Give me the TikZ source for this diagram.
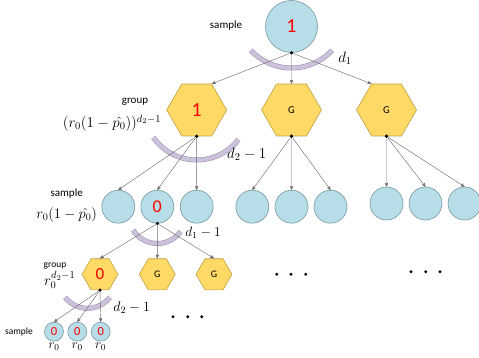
\RequirePackage{fix-cm}
\documentclass[tikz,border=0pt]{standalone}
\usepackage{fontspec}
\setsansfont{Carlito}
\usetikzlibrary{arrows,shapes.geometric,positioning}
\definecolor{smpfill}{RGB}{183,222,232}
\definecolor{smpline}{RGB}{120,150,160}
\definecolor{grpfill}{RGB}{255,217,102}
\definecolor{grpline}{RGB}{190,160,70}
\definecolor{bandfill}{RGB}{204,193,218}
\definecolor{bandline}{RGB}{150,140,175}
\definecolor{linkgray}{RGB}{110,110,110}
\newcommand\fsz[1]{\fontsize{#1}{#1}\selectfont}
\tikzset{>=stealth',
  smp/.style={circle,draw=smpline,fill=smpfill,line width=0.6pt,inner sep=0pt,
    text=red,font=\sffamily},
  grp/.style={regular polygon,regular polygon sides=6,draw=grpline,fill=grpfill,
    line width=0.6pt,inner sep=0pt,font=\sffamily\fsz{10.5}},
  junct/.style={circle,fill=black,inner sep=0pt,minimum size=3.6pt},
  link/.style={->,draw=linkgray,line width=0.45pt},
  band/.style={draw=bandline,line width=0.5pt,double=bandfill,double distance=4pt},
  tag/.style={font=\sffamily\fsz{#1}},
  lbl/.style={inner sep=0pt,font=\fsz{#1}}}

\begin{document}
\begin{tikzpicture}[x=1pt,y=1pt]
  \useasboundingbox (0,0) rectangle (479,-358);
  % root
  \node[smp,minimum size=52pt,font=\sffamily\fsz{20}] (s) at (291.5,-26.5) {1};
  % first row of groups
  \node[grp,minimum size=60pt,text=red,font=\sffamily\fsz{20}] (g1) at (196.7,-110) {1};
  \node[grp,minimum size=60pt] (g2) at (291.5,-110) {G};
  \node[grp,minimum size=60pt] (g3) at (386.5,-110) {G};
  % second row of samples
  \foreach \n/\x/\y in {1/118.3/206.7,3/196.7/206.7,4/252.3/206.7,5/291.5/206.7,
      6/330.5/206.7,7/386.5/203.5,8/425.5/203.5,9/464.5/203.5}
    \node[smp,minimum size=33pt] (c\n) at (\x,-\y) {};
  \node[smp,minimum size=33pt,font=\sffamily\fsz{18}] (c2) at (157.3,-206.7) {0};
  % third row of groups
  \node[grp,minimum size=36pt,text=red,font=\sffamily\fsz{17}] (h1) at (100,-274.3) {0};
  \node[grp,minimum size=36pt,font=\sffamily\fsz{10}] (h2) at (157.3,-274.3) {G};
  \node[grp,minimum size=36pt,font=\sffamily\fsz{10}] (h3) at (214,-274.3) {G};
  % last row of samples
  \foreach \n/\x in {1/54,2/77.3,3/100.7} {
    \node[smp,minimum size=19pt,font=\sffamily\fsz{12.5}] (l\n) at (\x,-331.7) {0};
    \node[lbl=13,below=1.5pt of l\n] (r\n) {$r_0$};}

  % junction dots
  \foreach \p in {s,g1,g2,g3,c2,h1}
    \node[junct] (\p-d) at (\p.south) {};

  % bands
  \draw[band] ([shift={(0,14.2)}]s.center) ++(223:55.7) arc (223:317:55.7);
  \draw[band] ([shift={(0,3)}]g1.center) ++(215:53) arc (215:322:53);
  \draw[band] ([shift={(0,-8.3)}]c2.center) ++(212:28.5) arc (212:325:28.5);
  \draw[band] ([shift={(-12.5,-5.5)}]h1.center) ++(218:28.5) arc (218:322:28.5);

  % links
  \draw[link] (s-d) -- (g1.60);
  \draw[link] (s-d) -- (g2.north);
  \draw[link] (s-d) -- (g3.120);
  \foreach \p/\a/\b/\c in {g1/1/2/3,g2/4/5/6,g3/7/8/9}
    \foreach \k in {\a,\b,\c}
      \draw[link] (\p-d) -- (c\k.north);
  \foreach \k in {1,2,3} {
    \draw[link] (c2-d) -- (h\k.north);
    \draw[link] (h1-d) -- (l\k.north);}

  % labels
  \node[tag=11] (t1) at (226,-26) {sample};
  \node[lbl=15] (e1) at (345,-58) {$d_1$};
  \node[tag=11] (t2) at (135,-102) {group};
  \node[lbl=15] (f2) at (112,-123) {$(r_0(1-\hat{p_0}))^{d_2-1}$};
  \node[lbl=15] (e2) at (246.7,-154) {$d_2-1$};
  \node[tag=11] (t3) at (66.7,-194) {sample};
  \node[lbl=14.5] (f3) at (66.7,-215) {$r_0(1-\hat{p_0})$};
  \node[lbl=13.5] (e3) at (203,-233) {$d_1-1$};
  \node[tag=9.5] (t4) at (55,-265.7) {group};
  \node[lbl=15] (f4) at (59.7,-280) {$r_0^{d_2-1}$};
  \node[lbl=14] (e4) at (131.7,-308) {$d_2-1$};
  \node[tag=9.5] (t5) at (19,-331.7) {sample};

  % more to come
  \foreach \x/\y in {173/316.7,187.7/316.7,201.7/316.7,276.7/274.3,291/274.3,
      305.7/274.3,411/271.7,425.7/271.7,440/271.7}
    \fill (\x,-\y) circle (1.6pt);
\end{tikzpicture}
\end{document}
